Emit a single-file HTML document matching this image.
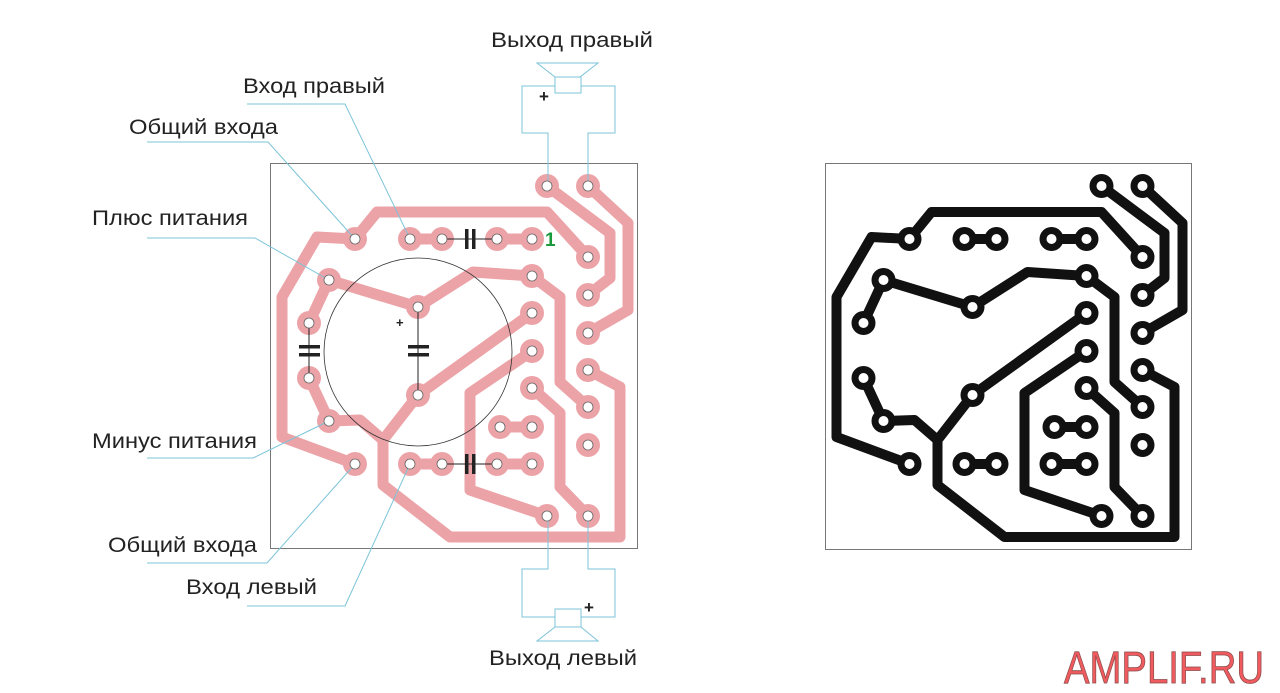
<!DOCTYPE html>
<html><head><meta charset="utf-8"><style>
html,body{margin:0;padding:0;background:#fff;}
svg{display:block;}
text{font-family:"Liberation Sans",Arial,sans-serif;fill:#222;}
</style></head><body>
<svg width="1280" height="693" viewBox="0 0 1280 693" xmlns="http://www.w3.org/2000/svg">
<defs>
<g id="tr" fill="none" stroke-linejoin="round" stroke-linecap="round">
<polyline points="355,239 317,237 282,297 282,437 355,464"/>
<polyline points="355,239 377,212 547,212 588,257"/>
<polyline points="547,186 610,233 610,278 588,295"/>
<polyline points="588,186 628,223 628,310 588,333"/>
<polyline points="329,280 418,307 473,272 532,276 560,297 560,382 588,407"/>
<polyline points="329,280 309,323"/>
<polyline points="309,378 329,421 360,420 383,440 383,485 450,537 620,537 620,387 588,370"/>
<polyline points="383,440 418,395 532,313"/>
<polyline points="532,351 470,393 470,490 547,516"/>
<polyline points="532,388 560,413 560,487 588,516"/>
<polyline points="410,239 442,239"/><polyline points="497,239 532,239"/>
<polyline points="500,427 532,427"/><polyline points="410,464 442,464"/><polyline points="497,464 532,464"/>
</g>
<g id="pads">
<circle cx="355" cy="239" r="12"/><circle cx="410" cy="239" r="12"/><circle cx="442" cy="239" r="12"/><circle cx="497" cy="239" r="12"/><circle cx="532" cy="239" r="12"/>
<circle cx="547" cy="186" r="12"/><circle cx="588" cy="186" r="12"/>
<circle cx="588" cy="257" r="12"/><circle cx="588" cy="295" r="12"/><circle cx="588" cy="333" r="12"/><circle cx="588" cy="370" r="12"/><circle cx="588" cy="407" r="12"/><circle cx="588" cy="445" r="12"/>
<circle cx="532" cy="276" r="12"/><circle cx="532" cy="313" r="12"/><circle cx="532" cy="351" r="12"/><circle cx="532" cy="388" r="12"/><circle cx="532" cy="427" r="12"/><circle cx="500" cy="427" r="12"/>
<circle cx="329" cy="280" r="12"/><circle cx="309" cy="323" r="12"/><circle cx="309" cy="378" r="12"/><circle cx="329" cy="421" r="12"/><circle cx="355" cy="464" r="12"/>
<circle cx="418" cy="307" r="12"/><circle cx="418" cy="395" r="12"/>
<circle cx="410" cy="464" r="12"/><circle cx="442" cy="464" r="12"/><circle cx="497" cy="464" r="12"/><circle cx="532" cy="464" r="12"/>
<circle cx="547" cy="516" r="12"/><circle cx="588" cy="516" r="12"/>
</g>
<g id="holes">
<circle cx="355" cy="239" r="5"/><circle cx="410" cy="239" r="5"/><circle cx="442" cy="239" r="5"/><circle cx="497" cy="239" r="5"/><circle cx="532" cy="239" r="5"/>
<circle cx="547" cy="186" r="5"/><circle cx="588" cy="186" r="5"/>
<circle cx="588" cy="257" r="5"/><circle cx="588" cy="295" r="5"/><circle cx="588" cy="333" r="5"/><circle cx="588" cy="370" r="5"/><circle cx="588" cy="407" r="5"/><circle cx="588" cy="445" r="5"/>
<circle cx="532" cy="276" r="5"/><circle cx="532" cy="313" r="5"/><circle cx="532" cy="351" r="5"/><circle cx="532" cy="388" r="5"/><circle cx="532" cy="427" r="5"/><circle cx="500" cy="427" r="5"/>
<circle cx="329" cy="280" r="5"/><circle cx="309" cy="323" r="5"/><circle cx="309" cy="378" r="5"/><circle cx="329" cy="421" r="5"/><circle cx="355" cy="464" r="5"/>
<circle cx="418" cy="307" r="5"/><circle cx="418" cy="395" r="5"/>
<circle cx="410" cy="464" r="5"/><circle cx="442" cy="464" r="5"/><circle cx="497" cy="464" r="5"/><circle cx="532" cy="464" r="5"/>
<circle cx="547" cy="516" r="5"/><circle cx="588" cy="516" r="5"/>
</g>
</defs>

<!-- left board -->
<rect x="270.5" y="163.5" width="367" height="385" fill="none" stroke="#777" stroke-width="1"/>
<use href="#tr" stroke="#eca3a7" stroke-width="11"/>
<use href="#pads" fill="#eca3a7"/>
<circle cx="418" cy="352" r="94" fill="none" stroke="#333" stroke-width="0.8"/>
<g stroke="#222" stroke-width="1">
<line x1="309" y1="323" x2="309" y2="378"/><line x1="418" y1="307" x2="418" y2="395"/>
<line x1="442" y1="239" x2="497" y2="239"/><line x1="442" y1="464" x2="497" y2="464"/>
</g>
<g fill="#222">
<rect x="299" y="345" width="21" height="3.5"/><rect x="299" y="353" width="21" height="3.5"/>
<rect x="408" y="345" width="21" height="3.5"/><rect x="408" y="353" width="21" height="3.5"/>
<rect x="465" y="229" width="3.5" height="20"/><rect x="472" y="229" width="3.5" height="20"/>
<rect x="465" y="454" width="3.5" height="20"/><rect x="472" y="454" width="3.5" height="20"/>
</g>
<text x="396" y="327" font-size="13" font-weight="bold">+</text>
<text x="545" y="246" font-size="19" font-weight="bold" style="fill:#1a9a3a">1</text>

<!-- right board -->
<rect x="825.5" y="163.5" width="366" height="386" fill="none" stroke="#777" stroke-width="1"/>
<g transform="translate(554.5,0)">
<use href="#tr" stroke="#111" stroke-width="10"/>
<use href="#pads" fill="#111"/>
<use href="#holes" fill="#fff"/>
</g>

<!-- leader lines -->
<g fill="none" stroke="#7cc4d8" stroke-width="1">
<polyline points="247,104 345,104 410,239"/>
<polyline points="147,142 268,142 355,239"/>
<polyline points="147,238 255,238 329,280"/>
<polyline points="147,458 253,458 329,421"/>
<polyline points="147,563 267,563 355,464"/>
<polyline points="247,606 345,606 410,464"/>
<polyline points="555,86 522,86 522,133 548,133 548,186"/>
<polyline points="581,86 615,86 615,133 588,133 588,186"/>
<rect x="555" y="77" width="26" height="16"/>
<polygon points="537,63 598,63 580,77 555,77"/>
<polyline points="548,516 548,569 522,569 522,617 555,617"/>
<polyline points="588,516 588,569 615,569 615,617 581,617"/>
<rect x="555" y="609" width="26" height="18"/>
<polygon points="555,627 581,627 598,641 537,641"/>
</g>
<g fill="#222" font-weight="bold" font-size="17">
<text x="539" y="102">+</text>
<text x="584" y="613">+</text>
</g>
<use href="#holes" fill="#fff" stroke="#666" stroke-width="0.8"/>

<g font-size="21">
<text x="243" y="93" textLength="142" lengthAdjust="spacingAndGlyphs">Вход правый</text>
<text x="129" y="134" textLength="149" lengthAdjust="spacingAndGlyphs">Общий входа</text>
<text x="92" y="225" textLength="156" lengthAdjust="spacingAndGlyphs">Плюс питания</text>
<text x="92" y="448" textLength="165" lengthAdjust="spacingAndGlyphs">Минус питания</text>
<text x="108" y="552" textLength="149" lengthAdjust="spacingAndGlyphs">Общий входа</text>
<text x="186" y="594" textLength="131" lengthAdjust="spacingAndGlyphs">Вход левый</text>
<text x="491" y="47" textLength="162" lengthAdjust="spacingAndGlyphs">Выход правый</text>
<text x="489" y="665" textLength="148" lengthAdjust="spacingAndGlyphs">Выход левый</text>
</g>
<text x="1064" y="683" font-size="45" textLength="200" lengthAdjust="spacingAndGlyphs" style="fill:#ef5b5e;stroke:#8a4a4a;stroke-width:0.8">AMPLIF.RU</text>
</svg>
</body></html>
